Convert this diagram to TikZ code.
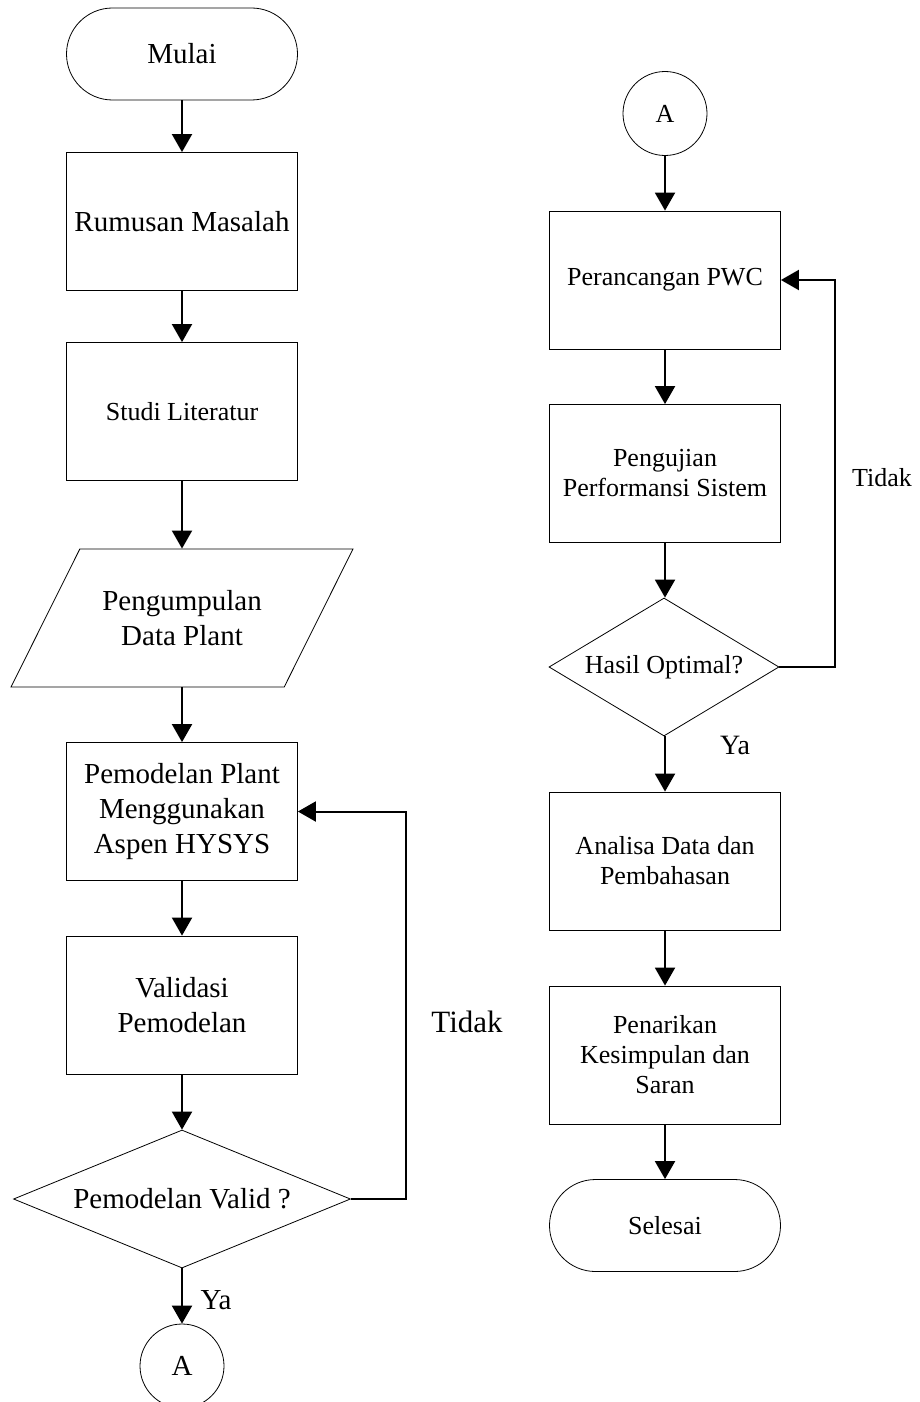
\documentclass[tikz,border=0pt]{standalone}
\usepackage{fontspec}
\setmainfont{Liberation Serif}
\usetikzlibrary{arrows.meta}
\usetikzlibrary{shapes}

\begin{document}
\begin{tikzpicture}[x=1pt,y=-1pt]
\tikzset{Flow/.style={draw, line width=0.8pt, align=center, inner sep=0pt}}
\tikzset{BigText/.style={font=\fontsize{29}{35}\selectfont}}
\tikzset{SmallText/.style={font=\fontsize{26}{30}\selectfont}}

\tikzset{Terminal/.style={
  Flow,
  rectangle,
  rounded corners=46pt,
  minimum width=231pt,
  minimum height=92pt,
}}
\tikzset{Process/.style={
  Flow,
  rectangle,
  minimum width=231pt,
  minimum height=138pt,
}}
\tikzset{InputData/.style={
  Flow,
  trapezium,
  trapezium left angle=63.4,
  trapezium right angle=116.6,
  trapezium stretches body=true,
  inner ysep=41pt,
  minimum width=342pt,
  minimum height=138pt,
}}
\tikzset{Decision/.style={
  Flow,
  diamond,
  aspect=2.4,
  minimum height=138pt,
}}
\tikzset{Connector/.style={
  Flow,
  circle,
  minimum size=84pt,
}}
\tikzset{Arrow/.style={line width=2pt, -{Triangle[length=18pt,width=20pt]}}}

\useasboundingbox (0,0) rectangle (920,1402);

% left column
\node[Terminal, BigText] (mulai) at (182,54) {Mulai};
\node[Process, BigText] (rumusan) at (182,221.5) {Rumusan Masalah};
\node[Process, SmallText] (studi) at (182,411.5) {Studi Literatur};
\node[InputData, BigText] (data) at (182,618) {Pengumpulan\\Data Plant};
\node[Process, BigText] (model) at (182,811.5) {Pemodelan Plant\\Menggunakan\\Aspen HYSYS};
\node[Process, BigText] (validasi) at (182,1005) {Validasi\\Pemodelan};
\node[Decision, BigText, minimum width=337pt] (cekvalid) at (182,1199) {Pemodelan Valid ?};
\node[Connector, BigText] (keluarA) at (182,1366) {A};
\coordinate (balikL) at (406,1199);
\node[BigText, font=\fontsize{31}{35}\selectfont] (tidakL) at (467,1022) {Tidak};
\node[BigText] (yaL) at (216,1300) {Ya};

% right column
\node[Connector, SmallText] (masukA) at (665,113.5) {A};
\node[Process, SmallText] (pwc) at (665,280) {Perancangan PWC};
\node[Process, SmallText] (uji) at (665,473.5) {Pengujian\\Performansi Sistem};
\node[Decision, SmallText, minimum width=230pt] (cekoptimal) at (664,667) {Hasil Optimal?};
\node[Process, SmallText] (analisa) at (665,861) {Analisa Data dan\\Pembahasan};
\node[Process, SmallText] (penarikan) at (665,1055) {Penarikan\\Kesimpulan dan\\Saran};
\node[Terminal, SmallText] (selesai) at (665,1225.5) {Selesai};
\coordinate (balikR) at (835,667);
\node[SmallText] (tidakR) at (882,478) {Tidak};
\node[BigText, font=\fontsize{28}{35}\selectfont] (yaR) at (735,745) {Ya};

\draw[Arrow] (mulai.south) -- (rumusan.north);
\draw[Arrow] (rumusan.south) -- (studi.north);
\draw[Arrow] (studi.south) -- (data.north -| studi.south);
\draw[Arrow] (data.south -| model.north) -- (model.north);
\draw[Arrow] (model.south) -- (validasi.north);
\draw[Arrow] (validasi.south) -- (cekvalid.north);
\draw[Arrow] (cekvalid.south) -- (keluarA.north);
\draw[Arrow] (cekvalid.east) -- (balikL) |- (model.east);

\draw[Arrow] (masukA.south) -- (pwc.north);
\draw[Arrow] (pwc.south) -- (uji.north);
\draw[Arrow] (uji.south) -- (cekoptimal.north -| uji.south);
\draw[Arrow] (cekoptimal.south -| analisa.north) -- (analisa.north);
\draw[Arrow] (analisa.south) -- (penarikan.north);
\draw[Arrow] (penarikan.south) -- (selesai.north);
\draw[Arrow] (cekoptimal.east) -- (balikR) |- (pwc.east);
\end{tikzpicture}
\end{document}
